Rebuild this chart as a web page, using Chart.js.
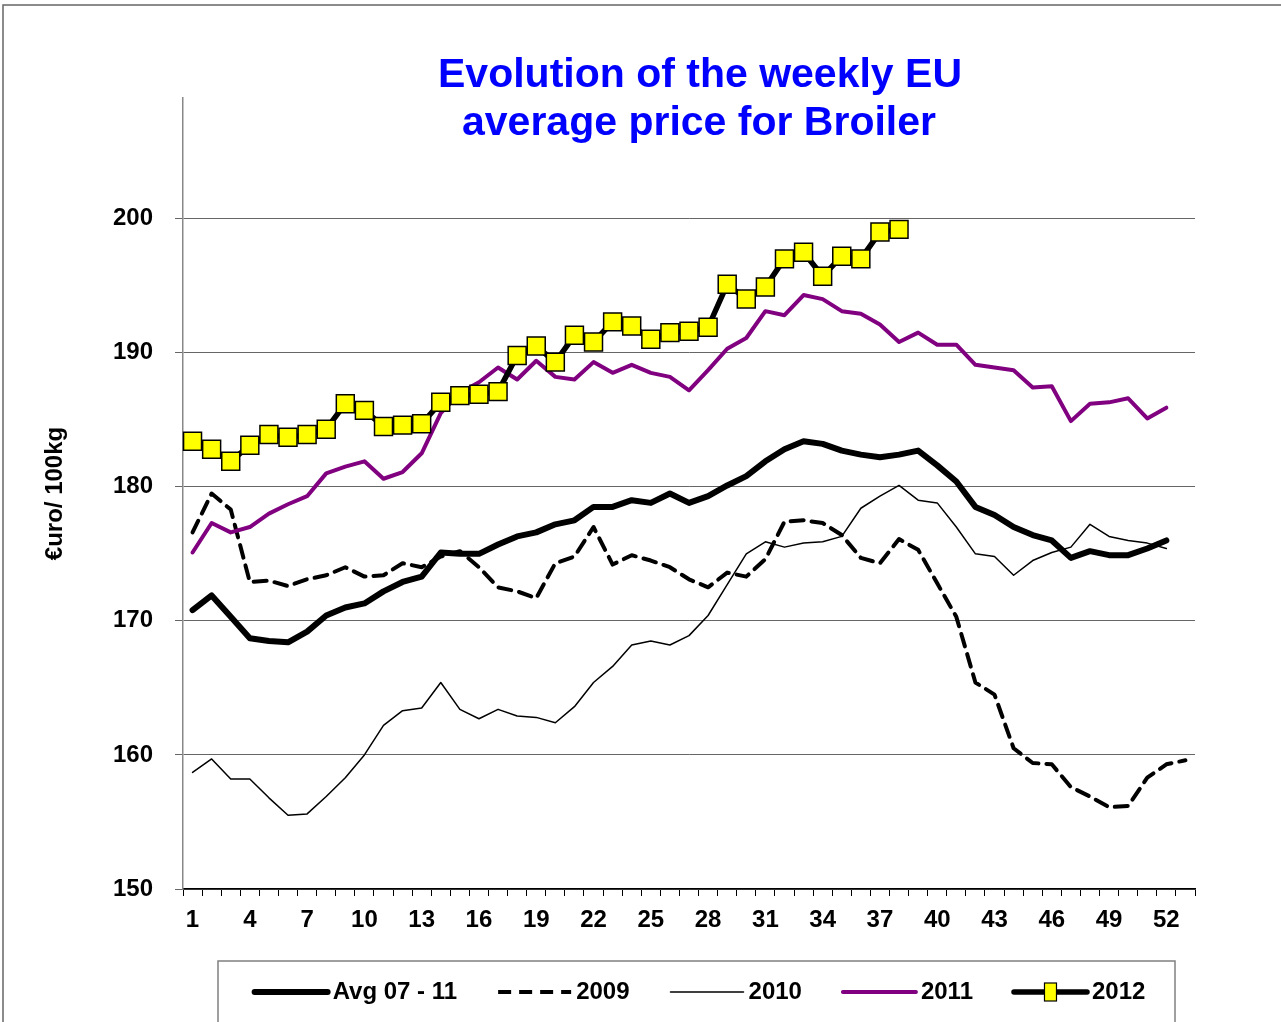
<!DOCTYPE html>
<html>
<head>
<meta charset="utf-8">
<script src="https://cdn.jsdelivr.net/npm/chart.js@4.4.0/dist/chart.umd.min.js"></script>
<style>
  html, body { margin: 0; padding: 0; background: #fff; }
  #wrap { width: 1281px; height: 1022px; position: relative; }
</style>
</head>
<body>
<div id="wrap"><canvas id="chart"></canvas></div>
<script>
// weeks 1..53
const weeks = Array.from({ length: 53 }, (_, i) => String(i + 1));

const avg0711 = [170.8, 171.9, 170.3, 168.7, 168.5, 168.4, 169.2, 170.4, 171.0, 171.3,
  172.2, 172.9, 173.3, 175.1, 175.0, 175.0, 175.7, 176.3, 176.6, 177.2,
  177.5, 178.5, 178.5, 179.0, 178.8, 179.5, 178.8, 179.3, 180.1, 180.8,
  181.9, 182.8, 183.4, 183.2, 182.7, 182.4, 182.2, 182.4, 182.7, 181.6,
  180.4, 178.5, 177.9, 177.0, 176.4, 176.0, 174.7, 175.2, 174.9, 174.9,
  175.4, 176.0];

const y2009 = [176.6, 179.5, 178.3, 172.9, 173.0, 172.6, 173.1, 173.4, 174.0, 173.3,
  173.4, 174.3, 174.0, 174.8, 175.2, 174.0, 172.5, 172.2, 171.7, 174.3,
  174.8, 177.0, 174.2, 174.9, 174.5, 174.0, 173.1, 172.5, 173.6, 173.3,
  174.6, 177.4, 177.5, 177.3, 176.4, 174.7, 174.3, 176.1, 175.3, 172.8,
  170.3, 165.4, 164.5, 160.5, 159.4, 159.3, 157.6, 156.9, 156.1, 156.2,
  158.3, 159.3, 159.6];

const y2010 = [158.7, 159.7, 158.2, 158.2, 156.8, 155.5, 155.6, 156.9, 158.3, 160.0,
  162.2, 163.3, 163.5, 165.4, 163.4, 162.7, 163.4, 162.9, 162.8, 162.4,
  163.6, 165.4, 166.6, 168.2, 168.5, 168.2, 168.9, 170.4, 172.7, 175.0,
  175.9, 175.5, 175.8, 175.9, 176.3, 178.4, 179.3, 180.1, 179.0, 178.8,
  177.0, 175.0, 174.8, 173.4, 174.5, 175.1, 175.5, 177.2, 176.3, 176.0,
  175.8, 175.4];

const y2011 = [175.1, 177.3, 176.6, 177.0, 178.0, 178.7, 179.3, 181.0, 181.5, 181.9,
  180.6, 181.1, 182.5, 185.5, 187.0, 187.8, 188.9, 188.0, 189.4, 188.2,
  188.0, 189.3, 188.5, 189.1, 188.5, 188.2, 187.2, 188.7, 190.3, 191.1,
  193.1, 192.8, 194.3, 194.0, 193.1, 192.9, 192.1, 190.8, 191.5, 190.6,
  190.6, 189.1, 188.9, 188.7, 187.4, 187.5, 184.9, 186.2, 186.3, 186.6,
  185.1, 185.9];

const y2012 = [183.4, 182.8, 181.9, 183.1, 183.9, 183.7, 183.9, 184.3, 186.2, 185.7,
  184.5, 184.6, 184.7, 186.3, 186.8, 186.9, 187.1, 189.8, 190.5, 189.3,
  191.3, 190.8, 192.3, 192.0, 191.0, 191.5, 191.6, 191.9, 195.1, 194.0,
  194.9, 197.0, 197.5, 195.7, 197.2, 197.0, 199.0, 199.2];

const titleLines = ['Evolution of the weekly EU', 'average price for Broiler'];
const yTitle = '€uro/ 100kg';

const FONT = '"Liberation Sans", Arial, sans-serif';

// frame + title drawn on the canvas
const framePlugin = {
  id: 'frame',
  beforeDraw(chart) {
    const c = chart.ctx;
    c.save();
    c.fillStyle = '#fff';
    c.fillRect(0, 0, chart.width, chart.height);
    c.strokeStyle = '#666'; c.lineWidth = 1.5;
    c.strokeRect(3, 5, chart.width + 10, chart.height + 10);
    c.restore();
  },
  afterDraw(chart) {
    const c = chart.ctx;
    c.save();
    c.fillStyle = '#0000ff';
    c.font = 'bold 41px ' + FONT;
    c.textAlign = 'center'; c.textBaseline = 'alphabetic';
    c.fillText(titleLines[0], 700, 87);
    c.fillText(titleLines[1], 699, 135);
    c.restore();
  }
};

// legend box at the bottom, built from the datasets
const legendPlugin = {
  id: 'boxLegend',
  afterDraw(chart) {
    const c = chart.ctx;
    const ds = chart.data.datasets;
    const sampleW = 73, gapText = 5, gapItem = 41, cy = 992;
    c.save();
    c.font = 'bold 24px ' + FONT;
    const widths = ds.map(d => c.measureText(d.label).width);
    let total = 0;
    widths.forEach((w, i) => { total += sampleW + gapText + w + (i < ds.length - 1 ? gapItem : 0); });
    let x = 700 - total / 2;

    c.strokeStyle = '#808080'; c.lineWidth = 1.5;
    c.strokeRect(218, 961, 957, 62);

    ds.forEach((d, i) => {
      c.beginPath();
      c.strokeStyle = d.borderColor;
      c.lineWidth = d.borderWidth;
      c.lineCap = d.borderDash ? 'butt' : 'round';
      c.setLineDash(d.borderDash || []);
      c.moveTo(x, cy); c.lineTo(x + sampleW, cy);
      c.stroke();
      c.setLineDash([]);
      if (d.pointRadius > 0) {
        c.fillStyle = d.pointBackgroundColor;
        c.strokeStyle = d.pointBorderColor;
        c.lineWidth = 1.2;
        c.fillRect(x + sampleW / 2 - 6, cy - 9, 12, 18);
        c.strokeRect(x + sampleW / 2 - 6, cy - 9, 12, 18);
      }
      c.fillStyle = '#000';
      c.textAlign = 'left'; c.textBaseline = 'middle';
      c.fillText(d.label, x + sampleW + gapText, cy);
      x += sampleW + gapText + widths[i] + gapItem;
    });
    c.restore();
  }
};

const ctx = document.getElementById('chart');
new Chart(ctx, {
  type: 'line',
  data: {
    labels: weeks,
    datasets: [
      { label: 'Avg 07 - 11', data: avg0711, borderColor: '#000', borderWidth: 6, pointRadius: 0, order: 5 },
      { label: '2009', data: y2009, borderColor: '#000', borderWidth: 4, borderDash: [13, 8], pointRadius: 0, order: 4 },
      { label: '2010', data: y2010, borderColor: '#000', borderWidth: 1.5, pointRadius: 0, order: 3 },
      { label: '2011', data: y2011, borderColor: '#800080', borderWidth: 4, pointRadius: 0, order: 2 },
      { label: '2012', data: y2012, borderColor: '#000', borderWidth: 5.5, pointRadius: 12.7, pointStyle: 'rect',
        pointBackgroundColor: '#ffff00', pointBorderColor: '#000', pointBorderWidth: 1.5, order: 1 }
    ]
  },
  options: {
    responsive: true,
    maintainAspectRatio: false,
    animation: false,
    events: [],
    layout: { padding: { top: 98, right: 86, left: 0, bottom: 0 } },
    elements: { line: { tension: 0, borderJoinStyle: 'round', borderCapStyle: 'round' } },
    plugins: { legend: { display: false }, title: { display: false }, tooltip: { enabled: false } },
    scales: {
      x: {
        type: 'category',
        offset: true,
        afterFit: s => { s.height = 133; },
        grid: { offset: true, drawOnChartArea: false, drawTicks: true, tickLength: 7, color: '#000' },
        border: { color: '#000', width: 1.5 },
        ticks: {
          autoSkip: false, maxRotation: 0, padding: 10, color: '#000',
          font: { family: FONT, size: 24, weight: 'bold' },
          callback: (v, i) => (i % 3 === 0 ? weeks[i] : '')
        }
      },
      y: {
        min: 150, max: 209,
        afterFit: s => { s.width = 183; },
        afterBuildTicks: s => { s.ticks = s.ticks.filter(t => t.value <= 200 && t.value % 10 === 0); },
        grid: { color: '#666', lineWidth: 1, tickLength: 8, tickColor: '#666' },
        border: { color: '#888', width: 1.5 },
        ticks: {
          stepSize: 10, padding: 22, color: '#000',
          font: { family: FONT, size: 24, weight: 'bold' }
        },
        title: {
          display: true, text: yTitle, color: '#000',
          font: { family: FONT, size: 24, weight: 'bold' },
          padding: { top: 41, bottom: 0 }
        }
      }
    }
  },
  plugins: [framePlugin, legendPlugin]
});
</script>
</body>
</html>
